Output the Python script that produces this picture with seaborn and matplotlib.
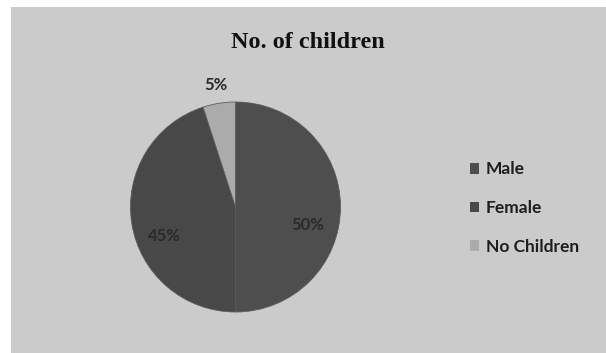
import matplotlib
matplotlib.use("Agg")
import matplotlib.pyplot as plt
import matplotlib.patches as mpatches
import numpy as np
import seaborn as sns

categories = ["Male", "Female", "No Children"]
values = [50, 45, 5]
title = "No. of children"
colors = ["#4e4e4e", "#484848", "#ababab"]

sns.set_theme(style="white")
plt.rcParams['font.family'] = ['Lato', 'DejaVu Sans']

W, H = 606, 353
fig = plt.figure(figsize=(W / 100, H / 100), dpi=100)
fig.patch.set_facecolor("white")
# grey chart area
fig.add_artist(mpatches.Rectangle((11 / W, 0), 1, 1 - 7 / H, transform=fig.transFigure,
                                  facecolor="#cbcbcb", edgecolor="none", zorder=0))

cx, cy, r = 235.5, H - 207, 105
ax = fig.add_axes([(cx - r) / W, (cy - r) / H, 2 * r / W, 2 * r / H])
ax.set_facecolor("none")
pal = sns.color_palette(colors)
wedges, texts, autotexts = ax.pie(values, colors=pal, startangle=90, counterclock=False,
                                  autopct=lambda p: f"{p:.0f}%", pctdistance=0.7,
                                  wedgeprops=dict(edgecolor="#5a5a5a", linewidth=0.6),
                                  textprops=dict(fontsize=12, color="#2a2a2a", fontweight="bold"))
for w, t in zip(wedges, autotexts):
    ang = np.deg2rad((w.theta1 + w.theta2) / 2)
    if w.theta2 - w.theta1 < 30:
        t.set_position((1.18 * np.cos(ang), 1.18 * np.sin(ang)))
    else:
        t.set_position((0.69 * np.cos(ang), 0.69 * np.sin(ang) - 0.17))
ax.set_xlim(-1, 1)
ax.set_ylim(-1, 1)
ax.set_aspect("equal")
ax.axis("off")

fig.text(308 / W, 1 - 42 / H, title, family="Liberation Serif", fontweight="bold",
         fontsize=17.5, ha="center", va="center", color="#111111")

handles = [mpatches.Patch(facecolor=c, edgecolor="none", label=l) for c, l in zip(pal, categories)]
fig.legend(handles=handles, loc="center left", bbox_to_anchor=(454 / W, 1 - 208 / H),
           frameon=False, handlelength=0.55, handleheight=0.55,
           handletextpad=0.4, labelspacing=1.3, labelcolor="#1e1e1e",
           prop=dict(family="Lato", weight="bold", size=12.5))

fig.savefig("out.png", dpi=100)
